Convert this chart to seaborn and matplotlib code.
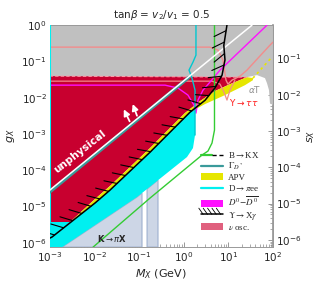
import numpy as np
import matplotlib
matplotlib.use("Agg")
import matplotlib.pyplot as plt
import seaborn as sns
from matplotlib import patheffects
from matplotlib.lines import Line2D
from matplotlib.patches import Patch
from matplotlib.legend_handler import HandlerTuple
from matplotlib.ticker import FixedLocator, NullFormatter

sns.set_theme(style="ticks")
plt.rcParams['font.family'] = ['DejaVu Sans']

# ---------------- data (M_X in GeV, g_X) ----------------
xlim = (1e-3, 100)
ylim = (7.6e-7, 1.0)
x_ticks = [1e-3, 1e-2, 1e-1, 1e0, 1e1, 1e2]
y_ticks = [1e-6, 1e-5, 1e-4, 1e-3, 1e-2, 1e-1, 1e0]
s_ticks = [1e-6, 1e-5, 1e-4, 1e-3, 1e-2, 1e-1]

# gray region (alpha T etc.)
gray_M = [1e-3, 100, 100, 85.7, 81.5, 73.5, 66.3, 43.9, 26.2, 1e-3]
gray_g = [1.0, 1.0, 6.25e-3, 7.1e-3, 0.0162, 0.0252, 0.0347, 0.042, 0.0369, 0.0369]

# nu osc (crimson)
nu_M = [1e-3, 26.2, 11.0, 5.0, 2.33, 1.07, 0.177, 0.0225, 0.0104, 2.88e-3, 1e-3]
nu_g = [0.0394, 0.0369, 0.0237, 0.0152, 8.06e-3, 3.77e-3, 4.09e-4, 3.67e-5, 1.61e-5, 3.74e-6, 3.74e-6]

# Upsilon -> X gamma (black hatched line)
ups_M = [1.02e-3, 1.14e-3, 1.05e-2, 2.24e-2, 0.178, 1.39, 3.02, 5.0, 7.24, 8.43, 7.94, 9.33]
ups_g = [1.35e-6, 1.45e-6, 1.26e-5, 2.82e-5, 3.16e-4, 3.98e-3, 8.5e-3, 1.84e-2, 4.17e-2, 0.11, 0.28, 1.0]

# APV (yellow band)
apv_M = [2.88e-3, 0.0104, 0.0225, 0.177, 1.07, 2.33, 5.0, 11.0, 26.2, 35.7,
         35.7, 23.7, 8.43, 3.01, 1.39, 0.178, 2.24e-2, 1.05e-2, 3.72e-3]
apv_g = [3.74e-6, 1.61e-5, 3.67e-5, 4.09e-4, 3.77e-3, 8.06e-3, 0.0152, 0.0237, 0.0369, 0.0347,
         0.0305, 0.0222, 0.0118, 6.67e-3, 3.98e-3, 3.16e-4, 2.82e-5, 1.26e-5, 4.7e-6]
apv_dot_M = [35.7, 95.0]
apv_dot_g = [0.0347, 0.132]

# D -> pi e e (cyan region)
dpee_M = [1e-3, 1.91e-3, 0.0908, 1.19, 1.62, 1.80, 1.80, 1.39, 0.178, 2.24e-2, 1.05e-2, 3.72e-3, 2.88e-3, 1e-3]
dpee_g = [7.6e-7, 7.6e-7, 1.83e-5, 2.31e-4, 4.09e-4, 9.33e-4, 5.17e-3, 3.98e-3, 3.16e-4, 2.82e-5, 1.26e-5, 4.7e-6, 3.74e-6, 3.74e-6]
dpee_line_M = [1.89, 1.89, 1.62, 1.32, 1.54, 1.80, 1.80]
dpee_line_g = [1.0, 0.149, 0.0957, 0.0576, 0.0347, 0.0162, 9.33e-4]
dpee_left_M = [1.02e-3, 1.02e-3]
dpee_left_g = [7.6e-7, 1.0]

# K -> pi X (light steel strips)
kpx1_M = [1.91e-3, 0.0908, 0.117, 0.117]
kpx1_g = [7.6e-7, 1.83e-5, 2.35e-5, 7.6e-7]
kpx2_M = [0.152, 0.152, 0.267, 0.267]
kpx2_g = [7.6e-7, 3.03e-5, 5.37e-5, 7.6e-7]

# salmon contours
salA_M = [1e-3, 3.89, 5.89, 7.6, 8.89, 9.85, 12.1, 18.3, 26.2, 46.1, 85.7, 100]
salA_g = [0.248, 0.248, 0.205, 0.109, 0.0305, 0.0237, 0.0305, 0.0394, 0.0576, 0.123, 0.281, 0.34]
salB_M = [1e-3, 4.32, 6.52, 8.0, 9.35, 10.9, 14.1]
salB_g = [0.0286, 0.0286, 0.0237, 0.0143, 8.6e-3, 0.0162, 0.0305]

# D0-D0bar (magenta)
dd_M = [1e-3, 0.384, 0.75, 1.25, 1.71, 1.89, 2.10, 2.72, 3.89, 6.52, 73.5]
dd_g = [0.0222, 0.0222, 0.0184, 0.0118, 6.25e-3, 3.77e-3, 8.6e-3, 0.0162, 0.0269, 0.0576, 1.0]

# B -> K X (green)
bkx_M = [9.4e-3, 0.177, 2.58, 3.51, 4.32, 4.91, 4.91]
bkx_g = [7.6e-7, 1.71e-5, 2.62e-4, 3.38e-4, 5.62e-4, 1.28e-3, 1.0]

# unphysical boundary (white) and Gamma_D* (teal)
unph_M = [1e-3, 33.9]
unph_g = [2.8e-5, 1.0]
gds_M = [1e-3, 1.3]
gds_g = [2.5e-5, 0.036]

s_over_g = 0.83

# ---------------- colours ----------------
c_gray = '#c0c0c0'
c_nu = '#c8002f'
c_apv = '#e6e600'
c_cyan = '#00f0f0'
c_kpx = '#cdd6e6'
c_kpx_edge = '#9eb0cf'
c_sal = '#f28c8c'
c_mag = '#ff10ff'
c_green = '#33cc33'
c_teal = '#3a9a9a'
c_nuleg = '#e0607e'

fig = plt.figure(figsize=(3.2, 2.86), dpi=100)
ax = fig.add_axes([0.155, 0.136, 0.698, 0.776])
ax.set_xscale('log')
ax.set_yscale('log')

ax.fill(kpx1_M, kpx1_g, color=c_kpx, ec=c_kpx_edge, lw=0.8, zorder=1)
ax.fill(kpx2_M, kpx2_g, color=c_kpx, ec=c_kpx_edge, lw=0.8, zorder=1)
ax.fill(gray_M, gray_g, color=c_gray, lw=0, zorder=1)
ax.fill(dpee_M, dpee_g, color=c_cyan, lw=0, zorder=2)
ax.fill(nu_M, nu_g, color=c_nu, lw=0, zorder=2)
ax.fill(apv_M, apv_g, color=c_apv, lw=0, zorder=3)
ax.plot(apv_dot_M, apv_dot_g, color=c_apv, lw=1.2, ls=(0, (1.5, 2)), zorder=3)
ax.plot([nu_M[0], nu_M[1]], [nu_g[0], nu_g[1]], color='#ff9aa8', lw=0.8, ls=(0, (3, 2)), zorder=3)

def line(xs, ys, **kw):
    sns.lineplot(x=xs, y=ys, sort=False, estimator=None, ax=ax, legend=False, **kw)

line(salA_M, salA_g, color=c_sal, lw=1.0, zorder=4)
line(salB_M, salB_g, color=c_sal, lw=0.9, zorder=4)
line(dd_M, dd_g, color=c_mag, lw=1.0, zorder=4)
line(dpee_line_M, dpee_line_g, color='#00c8d0', lw=1.0, zorder=4)
line(dpee_left_M, dpee_left_g, color='#00f0f0', lw=1.5, zorder=4)
line(bkx_M, bkx_g, color=c_green, lw=1.0, zorder=4)
line(gds_M, gds_g, color=c_teal, lw=2.4, zorder=5)
line(unph_M, unph_g, color='white', lw=1.1, zorder=5)

ticked = [patheffects.withTickedStroke(angle=125, spacing=8, length=1.2, linewidth=0.8)]
ax.plot(ups_M, ups_g, color='black', lw=1.1, zorder=6, path_effects=ticked)

ax.set_xlim(*xlim)
ax.set_ylim(*ylim)

# texts
ax.text(4.8e-3, 3.2e-4, 'unphysical', color='white', fontsize=7.5, fontweight='bold',
        rotation=38, ha='center', va='center', rotation_mode='anchor', zorder=7)
for (x0, y0, x1, y1) in [(0.066, 1.9e-3, 0.043, 5.6e-3), (0.095, 2.7e-3, 0.069, 7.9e-3)]:
    ax.annotate('', xy=(x1, y1), xytext=(x0, y0),
                arrowprops=dict(arrowstyle='-|>', color='white', lw=1.3, mutation_scale=9), zorder=7)
ax.text(0.025, 1.3e-6, r'K$\rightarrow\pi$X', fontsize=6, fontweight='bold', ha='center', va='center', zorder=7)
ax.text(40, 0.0165, r'$\alpha$T', fontsize=6.5, color='#909090', ha='center', va='center', zorder=7)
ax.text(22, 7.6e-3, r'$\Upsilon\rightarrow\tau\tau$', fontsize=6.5, color='#ff2020', ha='center', va='center', zorder=7)

# axes styling
ax.set_title(r'tan$\beta$ = $v_2/v_1$ = 0.5', fontsize=7.5, pad=5)
ax.set_xlabel(r'$M_X$ (GeV)', fontsize=8, labelpad=3)
ax.set_ylabel(r'$g_X$', fontsize=8, labelpad=3)

def minors(lo, hi):
    vals = [m * 10.0 ** e for e in range(-7, 3) for m in range(2, 10)]
    return [v for v in vals if lo < v < hi]

ax.xaxis.set_major_locator(FixedLocator(x_ticks))
ax.xaxis.set_minor_locator(FixedLocator(minors(*xlim)))
ax.yaxis.set_major_locator(FixedLocator(y_ticks))
ax.yaxis.set_minor_locator(FixedLocator(minors(*ylim)))
ax.xaxis.set_minor_formatter(NullFormatter())
ax.yaxis.set_minor_formatter(NullFormatter())
ax.tick_params(which='both', direction='in', top=True, right=False, labelsize=7.5, color='#888888', pad=2)
ax.tick_params(which='major', length=3.5, width=0.6)
ax.tick_params(which='minor', length=2, width=0.5)
for sp in ax.spines.values():
    sp.set_color('#999999')
    sp.set_linewidth(0.7)

sec = ax.secondary_yaxis('right', functions=(lambda g: g * s_over_g, lambda s: s / s_over_g))
sec.set_yscale('log')
sec.yaxis.set_major_locator(FixedLocator(s_ticks))
sec.yaxis.set_minor_locator(FixedLocator(minors(ylim[0] * s_over_g, ylim[1] * s_over_g)))
sec.yaxis.set_minor_formatter(NullFormatter())
sec.tick_params(which='both', direction='in', labelsize=7.5, color='#888888', pad=2)
sec.tick_params(which='major', length=3.5, width=0.6)
sec.tick_params(which='minor', length=2, width=0.5)
sec.spines['right'].set_color('#999999')
sec.set_ylabel(r'$s_X$', fontsize=8, labelpad=3)

# legend
h_bkx = (Line2D([], [], color=c_green, lw=1.6), Line2D([], [], color='black', lw=1.0, ls=(0, (3, 2))))
h_gds = Line2D([], [], color=c_teal, lw=1.6)
h_apv = Patch(facecolor=c_apv, edgecolor='none')
h_dpee = Line2D([], [], color=c_cyan, lw=1.6)
h_dd = Patch(facecolor=c_mag, edgecolor='none')
h_ups = Line2D([], [], color='black', lw=1.1,
               path_effects=[patheffects.withTickedStroke(angle=125, spacing=3, length=1.8, linewidth=0.6)])
h_nu = Patch(facecolor=c_nuleg, edgecolor='none')
labels = [r'B$\rightarrow$KX', r'$\Gamma_{D^*}$', 'APV', r'D$\rightarrow\pi$ee',
          r'$D^0\!-\!\overline{D^0}$', r'$\Upsilon\rightarrow$X$\gamma$', r'$\nu$ osc.']
leg = ax.legend([h_bkx, h_gds, h_apv, h_dpee, h_dd, h_ups, h_nu], labels,
                handler_map={tuple: HandlerTuple(ndivide=None, pad=0)},
                loc='upper left', bbox_to_anchor=(0.678, 0.437), borderaxespad=0, borderpad=0,
                frameon=False, handlelength=2.4, handleheight=0.8,
                handletextpad=0.6, labelspacing=0.12,
                prop={'family': 'Liberation Serif', 'size': 6.5})
for t in leg.get_texts():
    t.set_math_fontfamily('stix')
leg.set_zorder(8)

fig.savefig('out.png', dpi=100)
